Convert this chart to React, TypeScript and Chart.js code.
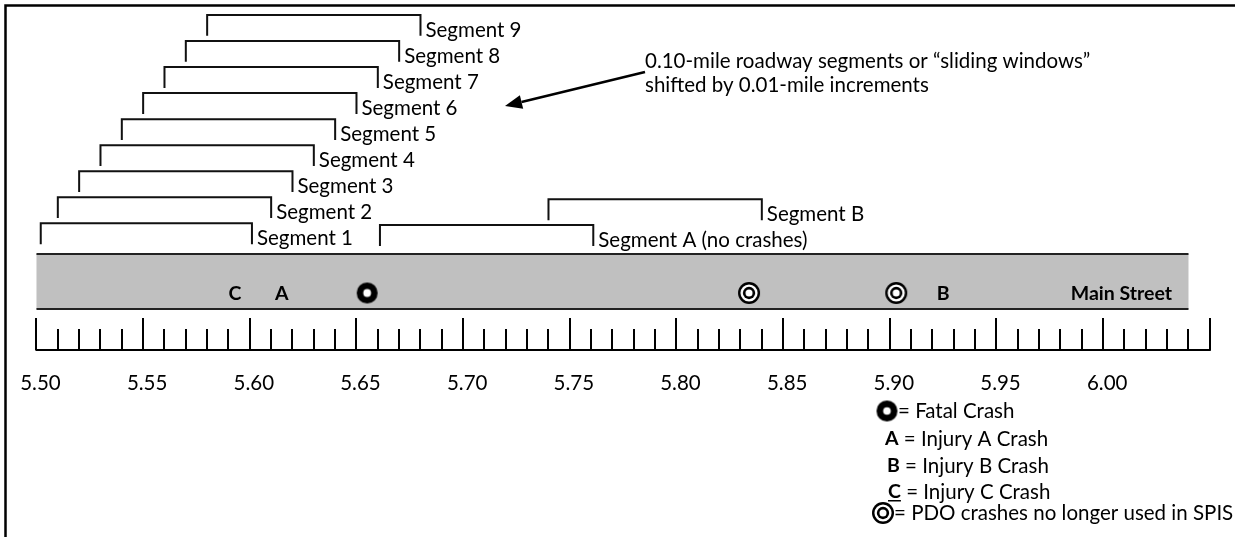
import React, { useEffect, useRef } from "react";
import { Chart, registerables } from "chart.js";

Chart.register(...registerables);

// ---- data (mileposts) ----
const segmentNames = ["Segment 1", "Segment 2", "Segment 3", "Segment 4", "Segment 5", "Segment 6", "Segment 7", "Segment 8", "Segment 9"];
const segmentStarts = [5.502, 5.51, 5.52, 5.53, 5.54, 5.55, 5.56, 5.57, 5.58];
const segmentEnds = [5.601, 5.61, 5.62, 5.63, 5.64, 5.65, 5.66, 5.67, 5.68];
const segmentRows = [1, 2, 3, 4, 5, 6, 7, 8, 9];

const extraNames = ["Segment A (no crashes)", "Segment B"];
const extraStarts = [5.661, 5.74];
const extraEnds = [5.761, 5.84];
const extraRows = [0.93, 1.92];

const fatalMiles = [5.655];
const pdoMiles = [5.834, 5.903];
const injuryLetters = ["C", "A", "B"];
const injuryMiles = [5.593, 5.615, 5.925];

const tickLabels = ["5.50", "5.55", "5.60", "5.65", "5.70", "5.75", "5.80", "5.85", "5.90", "5.95", "6.00"];
const tickLabelValues = [5.5, 5.55, 5.6, 5.65, 5.7, 5.75, 5.8, 5.85, 5.9, 5.95, 6.0];
const rulerStart = 5.5;
const rulerEnd = 6.05;
const roadEnd = 6.04;

const streetName = "Main Street";
const noteLines = ["0.10-mile roadway segments or \u201csliding windows\u201d", "shifted by 0.01-mile increments"];
const legendItems = [
  { icon: "fatal", key: "", text: "= Fatal Crash" },
  { icon: "", key: "A", text: " = Injury A Crash" },
  { icon: "", key: "B", text: " = Injury B Crash" },
  { icon: "", key: "C", text: " = Injury C Crash" },
  { icon: "pdo", key: "", text: "= PDO crashes no longer used in SPIS" },
];

// ---- layout ----
const W = 1235;
const H = 537;
const X_MIN = 5.4829;
const X_MAX = 6.0618;
const ROW_PX = 26.04;
const Y_MAX = 9.575;
const Y_MIN = Y_MAX - H / ROW_PX;
const LEG = 0.8;
const ROAD_ROW = Y_MAX - 293 / ROW_PX;
const FONT = "Lato, 'Open Sans', sans-serif";
const TXT = 20.5;
const BOLD = 19.5;
const INK = "#111";

function makeFatal(r: number, hole: number) {
  const c = document.createElement("canvas");
  const s = Math.ceil(r * 2 + 2);
  c.width = s;
  c.height = s;
  const g = c.getContext("2d")!;
  g.fillStyle = "#000";
  g.beginPath();
  g.arc(s / 2, s / 2, r, 0, Math.PI * 2);
  g.fill();
  g.fillStyle = "#fff";
  g.beginPath();
  g.arc(s / 2, s / 2, hole, 0, Math.PI * 2);
  g.fill();
  return c;
}

function makePdo(r: number) {
  const c = document.createElement("canvas");
  const s = Math.ceil(r * 2 + 2);
  c.width = s;
  c.height = s;
  const g = c.getContext("2d")!;
  const radii = [r, r * 0.78, r * 0.56, r * 0.32];
  const cols = ["#000", "#fff", "#000", "#fff"];
  radii.forEach((rr, i) => {
    g.fillStyle = cols[i];
    g.beginPath();
    g.arc(s / 2, s / 2, rr, 0, Math.PI * 2);
    g.fill();
  });
  return c;
}

function bracket(start: number, end: number, row: number) {
  return [
    { x: start, y: row - LEG },
    { x: start, y: row },
    { x: end, y: row },
    { x: end, y: row - LEG },
  ];
}

const backgroundPlugin = {
  id: "roadBackground",
  beforeDatasetsDraw(chart: any) {
    const ctx = chart.ctx as CanvasRenderingContext2D;
    const xs = chart.scales.x;
    ctx.save();
    // frame
    ctx.strokeStyle = "#000";
    ctx.lineWidth = 2.5;
    ctx.beginPath();
    ctx.moveTo(5.5, H + 2);
    ctx.lineTo(5.5, 5.5);
    ctx.lineTo(W + 2, 5.5);
    ctx.stroke();

    // road band
    const x0 = xs.getPixelForValue(rulerStart);
    const x1 = xs.getPixelForValue(roadEnd);
    ctx.fillStyle = "#c0c0c0";
    ctx.fillRect(x0, 254, x1 - x0, 55);
    ctx.strokeStyle = "#222";
    ctx.lineWidth = 2;
    ctx.beginPath();
    ctx.moveTo(x0, 254);
    ctx.lineTo(x1, 254);
    ctx.moveTo(x0, 309);
    ctx.lineTo(x1, 309);
    ctx.stroke();

    // ruler
    const base = 350;
    const xe = xs.getPixelForValue(rulerEnd);
    ctx.strokeStyle = "#000";
    ctx.lineWidth = 2;
    ctx.beginPath();
    ctx.moveTo(x0 - 1, base);
    ctx.lineTo(xe + 1, base);
    const n = Math.round((rulerEnd - rulerStart) * 100);
    for (let i = 0; i <= n; i++) {
      const px = Math.round(xs.getPixelForValue(rulerStart + i * 0.01));
      const major = i % 5 === 0;
      ctx.moveTo(px, base);
      ctx.lineTo(px, major ? 318 : 329);
    }
    ctx.stroke();

    ctx.fillStyle = "#000";
    ctx.font = `${TXT}px ${FONT}`;
    ctx.textAlign = "center";
    ctx.textBaseline = "middle";
    tickLabels.forEach((t, i) => {
      ctx.fillText(t, xs.getPixelForValue(tickLabelValues[i]) + 4, 383);
    });
    ctx.restore();
  },
  afterDatasetsDraw(chart: any) {
    const ctx = chart.ctx as CanvasRenderingContext2D;
    const xs = chart.scales.x;
    const ys = chart.scales.y;
    ctx.save();
    ctx.fillStyle = "#000";
    ctx.textBaseline = "middle";
    ctx.textAlign = "left";
    ctx.font = `${TXT}px ${FONT}`;
    segmentNames.forEach((name, i) => {
      ctx.fillText(name, xs.getPixelForValue(segmentEnds[i]) + 5, ys.getPixelForValue(segmentRows[i]) + 15);
    });
    extraNames.forEach((name, i) => {
      ctx.fillText(name, xs.getPixelForValue(extraEnds[i]) + 5, ys.getPixelForValue(extraRows[i]) + 15);
    });

    // crash letters
    ctx.font = `bold ${BOLD}px ${FONT}`;
    ctx.textAlign = "center";
    injuryLetters.forEach((l, i) => {
      ctx.fillText(l, xs.getPixelForValue(injuryMiles[i]), 294);
    });
    ctx.textAlign = "right";
    ctx.fillText(streetName, 1172, 294);

    // note + arrow
    ctx.textAlign = "left";
    ctx.font = `${TXT}px ${FONT}`;
    noteLines.forEach((l, i) => ctx.fillText(l, 645, 61 + i * 24));
    ctx.strokeStyle = "#000";
    ctx.lineWidth = 2.5;
    const ax = 645, ay = 72, bx = 505, by = 106;
    const ang = Math.atan2(by - ay, bx - ax);
    const hl = 17, hw = 7;
    const hx = bx - hl * Math.cos(ang), hy = by - hl * Math.sin(ang);
    ctx.beginPath();
    ctx.moveTo(ax, ay);
    ctx.lineTo(hx, hy);
    ctx.stroke();
    ctx.beginPath();
    ctx.moveTo(bx, by);
    ctx.lineTo(hx + hw * Math.sin(ang), hy - hw * Math.cos(ang));
    ctx.lineTo(hx - hw * Math.sin(ang), hy + hw * Math.cos(ang));
    ctx.closePath();
    ctx.fill();

    // legend
    const rowsY = [411, 439, 466, 492, 513];
    const fatalIcon = makeFatal(10.5, 3.8);
    const pdoIcon = makePdo(11);
    legendItems.forEach((it, i) => {
      const y = rowsY[i];
      let x = 885;
      if (it.icon === "fatal") {
        ctx.drawImage(fatalIcon, 887 - fatalIcon.width / 2, y - fatalIcon.height / 2);
        x = 898;
      } else if (it.icon === "pdo") {
        ctx.drawImage(pdoIcon, 883 - pdoIcon.width / 2, y - pdoIcon.height / 2);
        x = 894;
      } else {
        ctx.font = `bold ${BOLD}px ${FONT}`;
        ctx.textAlign = "left";
        const kx = it.key === "A" ? 885 : it.key === "B" ? 887 : 888;
        ctx.fillText(it.key, kx, y);
        const kw = ctx.measureText(it.key).width;
        if (it.key === "C") {
          ctx.fillRect(kx, y + 8, kw, 1.5);
        }
        x = kx + kw;
      }
      ctx.font = `${TXT}px ${FONT}`;
      ctx.textAlign = "left";
      ctx.fillText(it.text, x, y);
    });
    ctx.restore();
  },
};

export default function App() {
  const ref = useRef<HTMLCanvasElement | null>(null);
  useEffect(() => {
    if (!ref.current) return;
    const bracketSets = [
      ...segmentNames.map((n, i) => ({ label: n, data: bracket(segmentStarts[i], segmentEnds[i], segmentRows[i]) })),
      ...extraNames.map((n, i) => ({ label: n, data: bracket(extraStarts[i], extraEnds[i], extraRows[i]) })),
    ].map((d) => ({
      ...d,
      showLine: true,
      borderColor: INK,
      borderWidth: 2,
      pointRadius: 0,
      tension: 0,
      fill: false,
      borderJoinStyle: "miter" as const,
      clip: false as any,
    }));
    const chart = new Chart(ref.current, {
      type: "scatter",
      data: {
        datasets: [
          ...bracketSets,
          {
            label: "Fatal",
            data: fatalMiles.map((m) => ({ x: m, y: ROAD_ROW })),
            pointStyle: makeFatal(10.5, 3.9) as any,
            pointRadius: 10,
            clip: false as any,
          },
          {
            label: "PDO",
            data: pdoMiles.map((m) => ({ x: m, y: ROAD_ROW })),
            pointStyle: makePdo(11) as any,
            pointRadius: 10,
            clip: false as any,
          },
        ] as any,
      },
      options: {
        animation: false,
        responsive: false,
        events: [],
        layout: { padding: 0, autoPadding: false } as any,
        plugins: { legend: { display: false }, tooltip: { enabled: false } },
        scales: {
          x: { type: "linear", min: X_MIN, max: X_MAX, display: false },
          y: { type: "linear", min: Y_MIN, max: Y_MAX, display: false },
        },
      },
      plugins: [backgroundPlugin],
    });
    return () => chart.destroy();
  }, []);
  return (
    <div style={{ position: "absolute", left: 0, top: 0, width: W, height: H, background: "#fff" }}>
      <canvas ref={ref} width={W} height={H} style={{ display: "block", width: W, height: H }} />
    </div>
  );
}
